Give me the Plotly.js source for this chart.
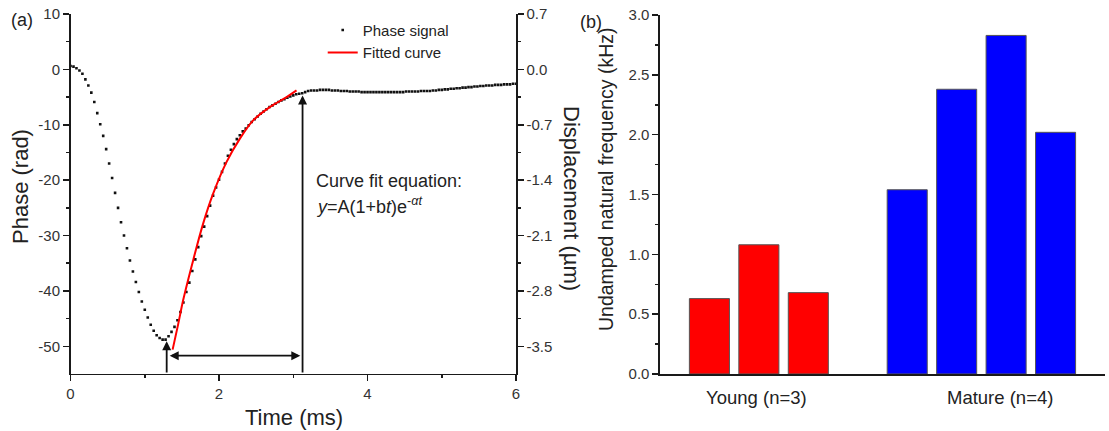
<!DOCTYPE html>
<html>
<head>
<meta charset="utf-8">
<script src="https://cdn.plot.ly/plotly-3.0.1.min.js"></script>
<style>html,body{margin:0;padding:0;background:#fff;}#chart{width:1109px;height:431px;}</style>
</head>
<body>
<div id="chart"></div>
<script>
// ---------- Panel (a): phase signal (sampled every 0.04 ms) ----------
const timeStep = 0.04;
const phaseSignal = [
  0.6, 0.5, 0.2, -0.2, -0.8, -1.8, -2.9, -4.2, -5.9, -7.9,
  -9.9, -12.0, -14.4, -17.0, -19.6, -22.3, -25.0, -27.6, -30.0, -32.3,
  -34.5, -36.5, -38.4, -40.2, -41.9, -43.4, -44.8, -46.1, -47.2, -48.0,
  -48.5, -48.8, -48.8, -48.2, -47.4, -46.5, -45.3, -43.8, -42.1, -40.2,
  -38.5, -36.4, -34.3, -32.1, -30.1, -28.4, -26.5, -24.6, -22.8, -21.3,
  -19.9, -18.5, -17.0, -15.6, -14.5, -13.5, -12.6, -11.9, -11.2, -10.7,
  -10.1, -9.5, -9.0, -8.5, -8.0, -7.6, -7.2, -6.8, -6.5, -6.2,
  -5.9, -5.6, -5.4, -5.1, -4.9, -4.7, -4.5, -4.4, -4.3, -4.1,
  -3.9, -3.8, -3.8, -3.8, -3.7, -3.7, -3.7, -3.7, -3.8, -3.8,
  -3.8, -3.9, -3.9, -3.9, -4.0, -4.0, -4.0, -4.0, -4.1, -4.1,
  -4.1, -4.1, -4.1, -4.1, -4.1, -4.1, -4.1, -4.1, -4.1, -4.1,
  -4.1, -4.1, -4.1, -4.0, -4.0, -4.0, -4.0, -4.0, -3.9, -3.9,
  -3.9, -3.9, -3.8, -3.8, -3.7, -3.7, -3.6, -3.6, -3.5, -3.5,
  -3.4, -3.4, -3.3, -3.3, -3.2, -3.2, -3.1, -3.1, -3.0, -3.0,
  -2.9, -2.9, -2.9, -2.8, -2.8, -2.8, -2.7, -2.7, -2.7, -2.6,
  -2.6
];
const phaseTime = phaseSignal.map((_, i) => +(i * timeStep).toFixed(2));

// fitted curve
const fitTime  = [1.375, 1.45, 1.518, 1.653, 1.787, 1.922, 2.102, 2.281, 2.46, 2.685, 2.91, 3.044];
const fitPhase = [-50.6, -46.0, -41.6, -34.4, -27.8, -22.4, -16.7, -12.5, -9.2, -6.8, -5.0, -3.8];

// tick labels
const timeTicks = [0, 2, 4, 6];
const phaseTicks = [10, 0, -10, -20, -30, -40, -50];
const phaseTickText = ['10', '0', '-10', '-20', '-30', '-40', '-50'];
const dispTicks = [0.7, 0, -0.7, -1.4, -2.1, -2.8, -3.5];
const dispTickText = ['0.7', '0.0', '-0.7', '-1.4', '-2.1', '-2.8', '-3.5'];
const freqTicks = [0, 0.5, 1, 1.5, 2, 2.5, 3];

// markers (arrows) in data units
const riseStart = 1.295, riseEnd = 3.125;
const riseStartPhase = -49.1, riseEndPhase = -4.7, spanPhase = -51.7;

// ---------- Panel (b): undamped natural frequency ----------
const youngPos = [1, 2, 3];
const youngFreq = [0.63, 1.08, 0.68];
const maturePos = [5, 6, 7, 8];
const matureFreq = [1.54, 2.38, 2.83, 2.02];
const groupLabels = ['Young (n=3)', 'Mature (n=4)'];
const groupLabelPos = [1.95, 6.88];

const FONT = 'Liberation Sans, Arial, sans-serif';
const AX = '#1a1a1a';
const TXT = '#333333';

const traces = [
  {x: phaseTime, y: phaseSignal, type: 'scatter', mode: 'markers', name: 'Phase signal',
   marker: {size: 2.6, color: '#111', symbol: 'square'}, xaxis: 'x', yaxis: 'y'},
  {x: fitTime, y: fitPhase, type: 'scatter', mode: 'lines', name: 'Fitted curve',
   line: {color: '#ff0000', width: 2, shape: 'spline'}, xaxis: 'x', yaxis: 'y'},
  {x: [0, 6], y: [0.7, -3.85], type: 'scatter', mode: 'markers', showlegend: false, hoverinfo: 'skip',
   marker: {opacity: 0, size: 1}, xaxis: 'x', yaxis: 'y2'},
  {x: youngPos, y: youngFreq, type: 'bar', width: 0.81, showlegend: false,
   marker: {color: '#ff0000', line: {color: '#555', width: 1}}, xaxis: 'x2', yaxis: 'y3'},
  {x: maturePos, y: matureFreq, type: 'bar', width: 0.81, showlegend: false,
   marker: {color: '#0000ff', line: {color: '#555', width: 1}}, xaxis: 'x2', yaxis: 'y3'}
];

const yDom = [0.1323, 0.9675];
function ann(text, px, py, size, angle, xanchor) {
  return {text: text, xref: 'paper', yref: 'paper', x: px / 1109, y: 1 - py / 431,
          xanchor: xanchor || 'center', yanchor: 'middle', textangle: angle || 0,
          showarrow: false, font: {size: size, color: '#222', family: FONT}};
}
const layout = {
  width: 1109, height: 431,
  margin: {l: 0, r: 0, t: 0, b: 0},
  paper_bgcolor: '#fff', plot_bgcolor: 'rgba(0,0,0,0)',
  font: {family: FONT, color: TXT, size: 15},
  showlegend: true,
  legend: {x: 0.291, y: 0.968, xanchor: 'left', yanchor: 'top', bgcolor: 'rgba(0,0,0,0)',
           font: {size: 15, color: '#222', family: FONT}, tracegroupgap: 0, itemwidth: 30},
  xaxis: {domain: [0.0636, 0.4653], range: [0, 6], showgrid: false, zeroline: false,
          showline: true, linecolor: AX, linewidth: 1.5, ticks: 'outside', ticklen: 6, tickwidth: 1.5,
          tickcolor: AX, tickmode: 'array', tickvals: timeTicks, tickfont: {size: 15, color: TXT},
          minor: {tickvals: [1, 3, 5], ticks: 'outside', ticklen: 3, tickcolor: AX, tickwidth: 1.5},
          anchor: 'y'},
  yaxis: {domain: yDom, range: [-55, 10], showgrid: false, zeroline: false,
          showline: true, linecolor: AX, linewidth: 1.5, ticks: 'outside', ticklen: 6, tickwidth: 1.5,
          tickcolor: AX, tickmode: 'array', tickvals: phaseTicks, ticktext: phaseTickText, tickfont: {size: 15, color: TXT},
          minor: {tickvals: [5, -5, -15, -25, -35, -45], ticks: 'outside', ticklen: 3, tickcolor: AX, tickwidth: 1.5},
          anchor: 'x'},
  yaxis2: {overlaying: 'y', side: 'right', anchor: 'x', range: [-3.85, 0.7], showgrid: false, zeroline: false,
           showline: true, linecolor: AX, linewidth: 1.5, ticks: 'outside', ticklen: 6, tickwidth: 1.5,
           tickcolor: AX, tickmode: 'array', tickvals: dispTicks, ticktext: dispTickText, tickfont: {size: 15, color: TXT},
           minor: {tickvals: [0.35, -0.35, -1.05, -1.75, -2.45, -3.15], ticks: 'outside', ticklen: 3, tickcolor: AX, tickwidth: 1.5}},
  xaxis2: {domain: [0.5951, 0.9964], range: [0, 9], showgrid: false, zeroline: false,
           showline: true, linecolor: AX, linewidth: 2, ticks: '', tickmode: 'array', tickvals: groupLabelPos, ticktext: groupLabels,
           tickfont: {size: 18.5, color: '#222'}, ticklabelstandoff: 6, anchor: 'y3'},
  yaxis3: {domain: [0.1323, 0.965], range: [0, 3], showgrid: false, zeroline: false,
           showline: true, linecolor: AX, linewidth: 1.5, ticks: 'outside', ticklen: 6, tickwidth: 1.5,
           tickcolor: AX, tickmode: 'array', tickvals: freqTicks, tickformat: '.1f', tickfont: {size: 15, color: TXT},
           minor: {tickvals: [0.25, 0.75, 1.25, 1.75, 2.25, 2.75], ticks: 'outside', ticklen: 3, tickcolor: AX, tickwidth: 1.5},
           anchor: 'x2'},
  annotations: [
    ann('(a)', 22, 20, 18),
    ann('(b)', 591, 22, 18),
    ann('Phase (rad)', 20, 187, 22, -90),
    ann('Time (ms)', 294, 417, 22),
    ann('Displacement (µm)', 571, 198, 22, 90),
    ann('Undamped natural frequency (kHz)', 606, 180, 19.5, -90),
    ann('Curve fit equation:', 314, 181, 18, 0, 'left'),
    ann('<i>y</i>=A(1+b<i>t</i>)e<sup>-<i>αt</i></sup>', 314, 205, 18, 0, 'left'),
    // arrows
    {xref: 'x', yref: 'y', axref: 'x', ayref: 'y', x: riseEnd, y: riseEndPhase, ax: riseEnd, ay: -55,
     showarrow: true, arrowhead: 2, arrowsize: 1, arrowwidth: 1.8, arrowcolor: '#111', text: ''},
    {xref: 'x', yref: 'y', axref: 'x', ayref: 'y', x: riseStart, y: riseStartPhase, ax: riseStart, ay: -55,
     showarrow: true, arrowhead: 2, arrowsize: 1, arrowwidth: 1.8, arrowcolor: '#111', text: ''},
    {xref: 'x', yref: 'y', axref: 'x', ayref: 'y', x: riseEnd - 0.03, y: spanPhase, ax: riseStart + 0.02, ay: spanPhase,
     showarrow: true, arrowhead: 2, startarrowhead: 2, arrowside: 'end+start', arrowsize: 1, arrowwidth: 1.8, arrowcolor: '#111', text: ''}
  ]
};

Plotly.newPlot('chart', traces, layout, {displayModeBar: false, staticPlot: true});
</script>
</body>
</html>
